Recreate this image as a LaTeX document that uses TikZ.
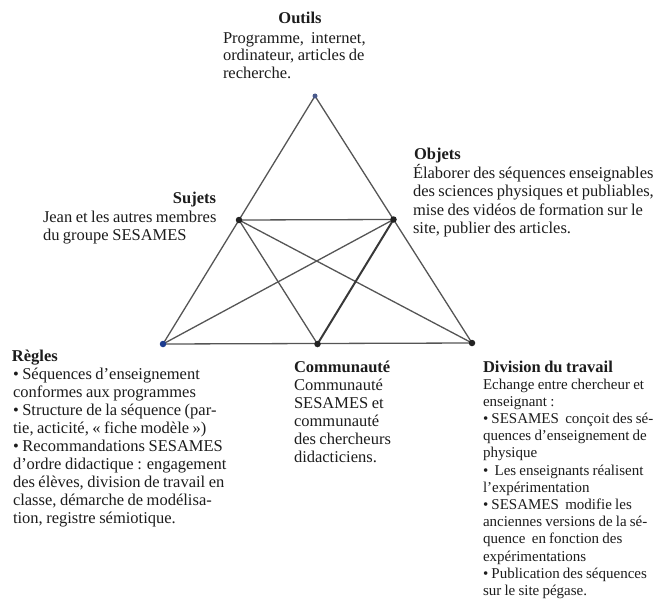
\documentclass[tikz,border=0pt]{standalone}
\usepackage{fontspec}
\setmainfont{Liberation Serif}[WordSpace=0.85]
\definecolor{ink}{HTML}{1C1C1C}
\definecolor{linec}{HTML}{555555}
\definecolor{dotc}{HTML}{222222}
\definecolor{bluedot}{HTML}{1D3C8F}
\definecolor{topmark}{HTML}{4A5A8C}
\newcommand\tstrut{\rule{0pt}{16pt}}
\begin{document}
\begin{tikzpicture}[x=1pt,y=-1pt,
  txt/.style={inner sep=0pt, outer sep=0pt, text=ink, font=\fontsize{16.5}{18.5}\selectfont},
  ttl/.style={txt, font=\fontsize{16.5}{18.5}\selectfont\bfseries},
  body/.style={txt, align=left, anchor=north west},
  edge/.style={draw=linec, line width=1.3pt},
  thickedge/.style={draw=dotc!90, line width=2pt},
  vdot/.style={circle, fill=dotc, inner sep=0pt, minimum size=6.5pt}]
\useasboundingbox (0,0) rectangle (659,602);

% vertices
\coordinate (O) at (315,96);
\coordinate (S) at (239,220);
\coordinate (B) at (393.5,219.5);
\coordinate (R) at (163,344);
\coordinate (C) at (317.5,344);
\coordinate (D) at (472,343);

% edges
\draw[edge] (O) -- (R);
\draw[edge] (O) -- (D);
\draw[edge] (R) -- (D);
\draw[edge] (S) -- (B);
\draw[edge] (S) -- (C);
\draw[edge] (S) -- (D);
\draw[edge] (B) -- (R);
\draw[thickedge] (B) -- (C);

% dots
\node[vdot, fill=topmark, minimum size=5pt] (Od) at (O) {};
\node[vdot] (Sd) at (S) {};
\node[vdot] (Bd) at (B) {};
\node[vdot, fill=bluedot] (Rd) at (R) {};
\node[vdot] (Cd) at (C) {};
\node[vdot] (Dd) at (D) {};

% Outils
\node[ttl, anchor=base] (outT) at (300,24) {Outils};
\node[body, font=\fontsize{16.5}{17.5}\selectfont] (outB) at (223,27) {\tstrut Programme,~ internet,\\ ordinateur, articles de\\ recherche.};

% Sujets
\node[ttl, anchor=base east] (sujT) at (216,203) {Sujets};
\node[body] (sujB) at (43,206) {\tstrut Jean et les autres membres\\ du groupe SESAMES};

% Objets
\node[ttl, anchor=base west] (objT) at (414,159) {Objets};
\node[body] (objB) at (413,162) {\tstrut Élaborer des séquences enseignables\\ des sciences physiques et publiables,\\ mise des vidéos de formation sur le\\ site, publier des articles.};

% Regles
\node[ttl, anchor=base west] (regT) at (12,361) {Règles};
\node[body, font=\fontsize{16.5}{18.1}\selectfont] (regB) at (13,363) {\tstrut • Séquences d’enseignement\\ conformes aux programmes\\ • Structure de la séquence (par-\\ tie, acticité, « fiche modèle »)\\ • Recommandations SESAMES\\ d’ordre didactique : engagement\\ des élèves, division de travail en\\ classe, démarche de modélisa-\\ tion, registre sémiotique.};

% Communaute
\node[ttl, anchor=base west] (comT) at (294,372) {Communauté};
\node[body, font=\fontsize{16.5}{18.2}\selectfont] (comB) at (294,374) {\tstrut Communauté\\ SESAMES et\\ communauté\\ des chercheurs\\ didacticiens.};

% Division du travail
\node[ttl, anchor=base west] (divT) at (483,372) {Division du travail};
\node[body, font=\fontsize{15}{17.2}\selectfont] (divB) at (483,373) {\tstrut Echange entre chercheur et\\ enseignant :\\ • SESAMES~ conçoit des sé-\\ quences d’enseignement de\\ physique\\ •~ Les enseignants réalisent\\ l’expérimentation\\ • SESAMES~ modifie les\\ anciennes versions de la sé-\\ quence~ en fonction des\\ expérimentations\\ • Publication des séquences\\ sur le site pégase.};
\end{tikzpicture}
\end{document}
